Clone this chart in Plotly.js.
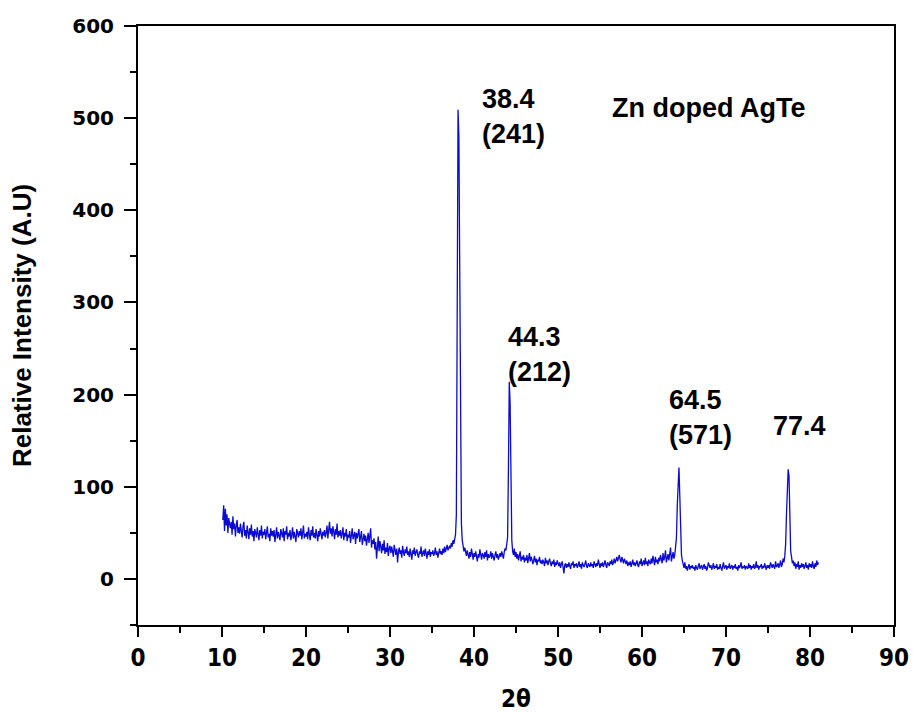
<!DOCTYPE html>
<html>
<head>
<meta charset="utf-8">
<script src="https://cdn.plot.ly/plotly-3.0.1.min.js"></script>
<style>html,body{margin:0;padding:0;background:#fff;}#chart{width:913px;height:713px;}</style>
</head>
<body>
<div id="chart"></div>
<script>
// XRD scan: 2θ from 10.1° in 0.1° steps
var scanStart = 10.1;
var scanStep = 0.1;
var intensity = [
64,80,52,76,58,70,50,66,60,55,
62,48,68,54,60,46,58,64,50,56,
49,60,52,45,57,62,47,53,44,58,
51,43,55,48,59,46,52,41,54,50,
45,56,49,42,53,47,58,44,51,48,
54,43,50,57,45,49,41,55,47,52,
46,53,40,50,56,44,51,47,42,54,
49,45,55,41,52,48,57,43,50,46,
53,42,48,56,44,51,46,40,54,49,
45,52,47,55,43,50,58,44,49,46,
51,43,56,48,42,53,47,57,45,50,
44,54,49,41,52,46,55,48,43,51,
47,53,45,50,58,44,52,62,49,55,
46,57,51,43,54,48,60,45,52,47,
53,44,49,56,42,50,46,54,41,48,
45,52,39,49,55,43,47,51,38,50,
44,48,54,40,46,52,37,45,49,41,
47,36,43,50,39,45,55,34,42,38,
44,32,40,22,37,46,30,41,35,28,
38,31,42,27,34,29,39,25,33,36,
28,35,30,24,37,31,26,33,18,29,
34,27,31,23,36,29,25,32,28,35,
26,30,24,33,28,21,31,27,34,25,
29,32,26,23,30,27,35,24,28,31,
25,33,28,22,30,26,32,24,29,27,
31,25,28,34,26,30,23,29,33,27,
30,26,33,28,35,29,32,37,31,34,
36,33,39,35,42,38,45,48,70,250,
509,480,300,120,60,42,35,30,34,28,
25,31,27,22,29,24,33,26,21,28,
24,30,26,19,27,23,32,25,21,28,
26,22,29,24,31,20,27,23,25,30,
22,28,24,20,26,30,23,27,21,25,
28,24,30,26,22,29,33,31,36,45,
120,214,190,95,42,30,26,33,24,29,
22,27,20,25,30,19,24,21,26,18,
23,20,26,17,22,28,19,24,21,16,
20,25,18,22,15,21,19,24,17,20,
16,21,18,14,23,17,20,15,19,22,
17,14,19,16,21,13,18,15,20,16,
14,18,12,16,19,13,6,15,17,12,
16,13,18,14,11,17,15,19,12,16,
14,17,12,15,19,13,16,11,18,15,
13,16,20,14,12,17,15,13,18,14,
16,12,19,15,13,17,14,21,15,12,
17,14,18,13,16,20,15,12,18,16,
14,19,16,21,15,18,22,17,20,24,
19,23,26,21,18,24,20,17,22,19,
16,20,14,18,15,19,13,17,21,15,
18,14,17,20,15,13,19,16,22,14,
17,20,15,23,16,19,14,21,18,16,
22,17,25,19,15,24,18,21,16,23,
19,26,21,17,28,20,24,31,18,22,
27,20,25,34,19,23,29,22,26,35,
45,80,112,121,90,42,26,20,15,12,
18,11,14,9,13,16,10,14,12,15,
11,13,9,15,12,10,14,17,11,13,
15,10,13,16,11,14,9,12,18,13,
12,15,10,13,17,11,14,12,16,10,
13,11,16,12,9,14,18,11,13,15,
10,14,12,17,11,13,15,10,14,12,
16,11,13,9,15,12,14,18,11,13,
12,15,10,14,13,11,17,12,15,10,
14,12,16,11,13,19,12,15,10,14,
13,16,11,14,12,17,13,10,15,12,
15,11,18,13,12,16,14,11,19,13,
14,17,12,15,20,13,16,22,18,25,
38,70,108,119,112,60,30,24,17,20,
14,18,11,16,13,19,10,15,12,17,
13,16,11,14,18,12,15,10,17,13,
16,12,19,14,11,17,13,20,15,18
];

var peakLabels = ["38.4<br>(241)", "44.3<br>(212)", "64.5<br>(571)", "77.4"];
var peakLabelX = [40.7, 43.8, 63.0, 75.4];
var peakLabelY = [502, 243, 175, 166];
var sampleName = "Zn doped AgTe";

var xTitle = "2θ";
var yTitle = "Relative Intensity (A.U)";

var annFont = {family: "Liberation Sans, Arial, sans-serif", size: 27, color: "#000", weight: "bold"};
var annotations = peakLabels.map(function (t, i) {
  return {text: t, x: peakLabelX[i], y: peakLabelY[i], xref: "x", yref: "y",
          xanchor: "left", yanchor: "middle", align: "left", showarrow: false, font: annFont};
});
annotations.push({text: sampleName, x: 56.2, y: 511, xref: "x", yref: "y",
  xanchor: "left", yanchor: "middle", showarrow: false, font: annFont});

var trace = {
  type: "scatter", mode: "lines",
  x0: scanStart, dx: scanStep, y: intensity,
  line: {color: "rgb(10,10,210)", width: 1.3},
  hoverinfo: "skip"
};

var narrowFont = {family: "DejaVu Sans Condensed, DejaVu Sans, sans-serif", size: 24, color: "#000", weight: "bold"};

var layout = {
  width: 913, height: 713,
  margin: {l: 138, r: 19, t: 26, b: 88},
  paper_bgcolor: "#fff", plot_bgcolor: "#fff",
  showlegend: false,
  xaxis: {
    range: [0, 90], tick0: 0, dtick: 10, autorange: false,
    showgrid: false, zeroline: false,
    showline: true, linecolor: "#000", linewidth: 2, mirror: true,
    ticks: "outside", ticklen: 10, tickwidth: 2, tickcolor: "#000",
    minor: {dtick: 5, ticks: "outside", ticklen: 6, tickwidth: 2, tickcolor: "#000", showgrid: false},
    ticklabelstandoff: 0,
    tickfont: narrowFont,
    title: {text: xTitle, standoff: 26, font: narrowFont}
  },
  yaxis: {
    range: [-50, 600], tick0: 0, dtick: 100, autorange: false,
    showgrid: false, zeroline: false,
    showline: true, linecolor: "#000", linewidth: 2, mirror: true,
    ticks: "outside", ticklen: 12, tickwidth: 2, tickcolor: "#000",
    minor: {dtick: 50, ticks: "outside", ticklen: 6, tickwidth: 2, tickcolor: "#000", showgrid: false},
    ticklabelstandoff: 6,
    tickfont: {family: "DejaVu Sans, sans-serif", size: 20, color: "#000", weight: "bold"},
    title: {text: yTitle, standoff: 33,
      font: {family: "Liberation Sans, Arial, sans-serif", size: 26, color: "#000", weight: "bold"}}
  },
  annotations: annotations
};

Plotly.newPlot("chart", [trace], layout, {displayModeBar: false, staticPlot: true});
</script>
</body>
</html>
